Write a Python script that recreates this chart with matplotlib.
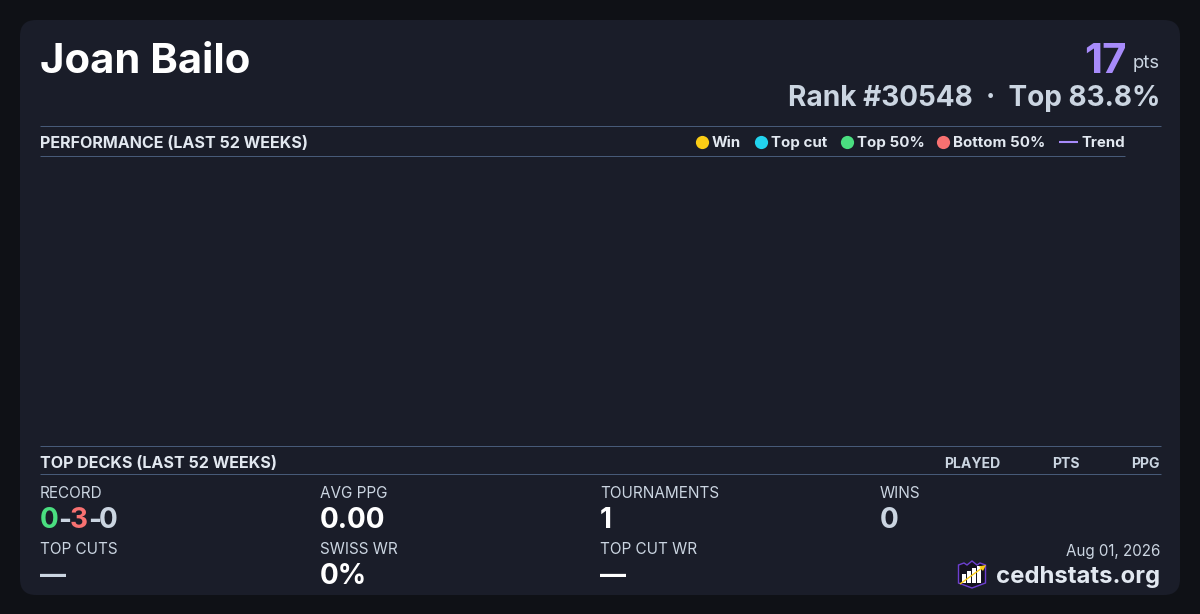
import matplotlib
matplotlib.use("Agg")
import matplotlib.pyplot as plt
from matplotlib.patches import FancyBboxPatch, Polygon, Rectangle

plt.rcParams['font.family'] = ['Inter', 'DejaVu Sans']

player = "Joan Bailo"
points = "17"
rank_line = "Rank #30548  ·  Top 83.8%"
legend_names = ["Win", "Top cut", "Top 50%", "Bottom 50%"]
legend_colors = ["#facc15", "#22d3ee", "#4ade80", "#f87171"]
legend_x = [702, 761, 847, 943]
deck_columns = ["PLAYED", "PTS", "PPG"]
deck_column_x = [1000, 1080, 1160]
stat_labels = ["RECORD", "AVG PPG", "TOURNAMENTS", "WINS", "TOP CUTS", "SWISS WR", "TOP CUT WR"]
stat_values = [None, "0.00", "1", "0", "—", "0%", "—"]
stat_value_colors = [None, "#ffffff", "#ffffff", "#cbd5e1", "#cbd5e1", "#ffffff", "#ffffff"]
stat_x = [40, 320, 600, 880, 40, 320, 600]
stat_label_y = [492, 492, 492, 492, 548, 548, 548]
stat_value_y = [518, 518, 518, 518, 574, 574, 574]

BG = "#0f1116"
CARD = "#1a1d29"
RULE = "#475a78"
PURPLE = "#a78bfa"
LABEL = "#e2e8f0"
MUTED = "#cbd5e1"


def px(size):
    # css px to pt at dpi 100
    return size * 0.72


fig = plt.figure(figsize=(12, 6.14), dpi=100, facecolor=BG)
ax = fig.add_axes([0, 0, 1, 1])
ax.set_xlim(0, 1200)
ax.set_ylim(614, 0)
ax.axis("off")

ax.add_patch(FancyBboxPatch((20, 20), 1160, 575, boxstyle="round,pad=0,rounding_size=16",
                            fc=CARD, ec="none", zorder=0))

ax.text(40, 58, player, color="#ffffff", fontsize=px(41.8), fontweight="bold", va="center_baseline")
ax.text(1127, 58, points, color=PURPLE, fontsize=px(42), fontweight="bold", ha="right", va="center_baseline")
ax.text(1160, 62, "pts", color=MUTED, fontsize=px(18.5), ha="right", va="center_baseline")
ax.text(1160, 96, rank_line, color=MUTED, fontsize=px(28), fontweight="bold", ha="right", va="center_baseline")

# section rules
for x1, y in zip([1160.5, 1124.5, 1160.5, 1160.5], [126, 156, 446, 474]):
    ax.plot([40, x1], [y, y], color=RULE, lw=0.72, solid_capstyle="butt")

ax.text(40, 142, "PERFORMANCE (LAST 52 WEEKS)", color=LABEL, fontsize=px(16.1), fontweight="bold", va="center_baseline")
ax.text(40, 462, "TOP DECKS (LAST 52 WEEKS)", color=LABEL, fontsize=px(16.1), fontweight="bold", va="center_baseline")

# legend
for name, col, x in zip(legend_names, legend_colors, legend_x):
    ax.plot(x, 141.5, marker="o", ms=9.5, color=col, mec="none")
    ax.text(x + 10, 141.5, name, color=LABEL, fontsize=px(15.1), fontweight="bold", va="center_baseline")
ax.plot([1059, 1078], [142, 142], color=PURPLE, lw=1.5, solid_capstyle="butt")
ax.text(1081, 141.5, "Trend", color=LABEL, fontsize=px(15), fontweight="bold", va="center_baseline")

for name, x in zip(deck_columns, deck_column_x):
    ax.text(x, 462, name, color=MUTED, fontsize=px(14), fontweight="bold", ha="right", va="center_baseline")

# stats grid
for label, value, col, x, ly, vy in zip(stat_labels, stat_values, stat_value_colors, stat_x, stat_label_y, stat_value_y):
    ax.text(x, ly, label, color=MUTED, fontsize=px(15.3), va="center_baseline")
    if value is not None:
        size = 26 if value == "—" else 28
        ax.text(x, vy, value, color=col, fontsize=px(size), fontweight="bold", va="center_baseline")

# record value is three colours, placed part by part
cx = 40
for part, col, w in zip(["0", "-", "3", "-", "0"],
                        ["#4ade80", MUTED, "#f87171", MUTED, MUTED],
                        [18, 12, 18, 11, 18]):
    ax.text(cx, 518, part, color=col, fontsize=px(28), fontweight="bold", va="center_baseline")
    cx += w

ax.text(1160, 550, "Aug 01, 2026", color=MUTED, fontsize=px(15.2), ha="right", va="center_baseline")
ax.text(1160, 574, "cedhstats.org", color=LABEL, fontsize=px(23.9), fontweight="bold", ha="right", va="center_baseline")

# logo: shield with crown, bars and arrow
ax.add_patch(Polygon([(958.5, 565), (958.5, 583), (972, 588), (985.5, 583), (985.5, 565),
                      (980, 563), (977, 565), (972, 561), (967, 565), (964, 563)], closed=True,
                     fc="#14121f", ec="#6d3fd0", lw=1.0, zorder=3))
for bx, by in zip([962, 967, 972, 977], [574, 571, 568, 566]):
    ax.add_patch(Rectangle((bx, by), 4, 583 - by, fc="#ffffff", ec="none", zorder=4))
ax.plot([960, 982], [584, 568], color="#facc15", lw=1.0, zorder=5, solid_capstyle="butt")
ax.add_patch(Polygon([(986, 565), (979, 566.5), (983, 571)], closed=True, fc="#facc15", ec="none", zorder=5))

fig.savefig("out.png", dpi=100, facecolor=BG)
